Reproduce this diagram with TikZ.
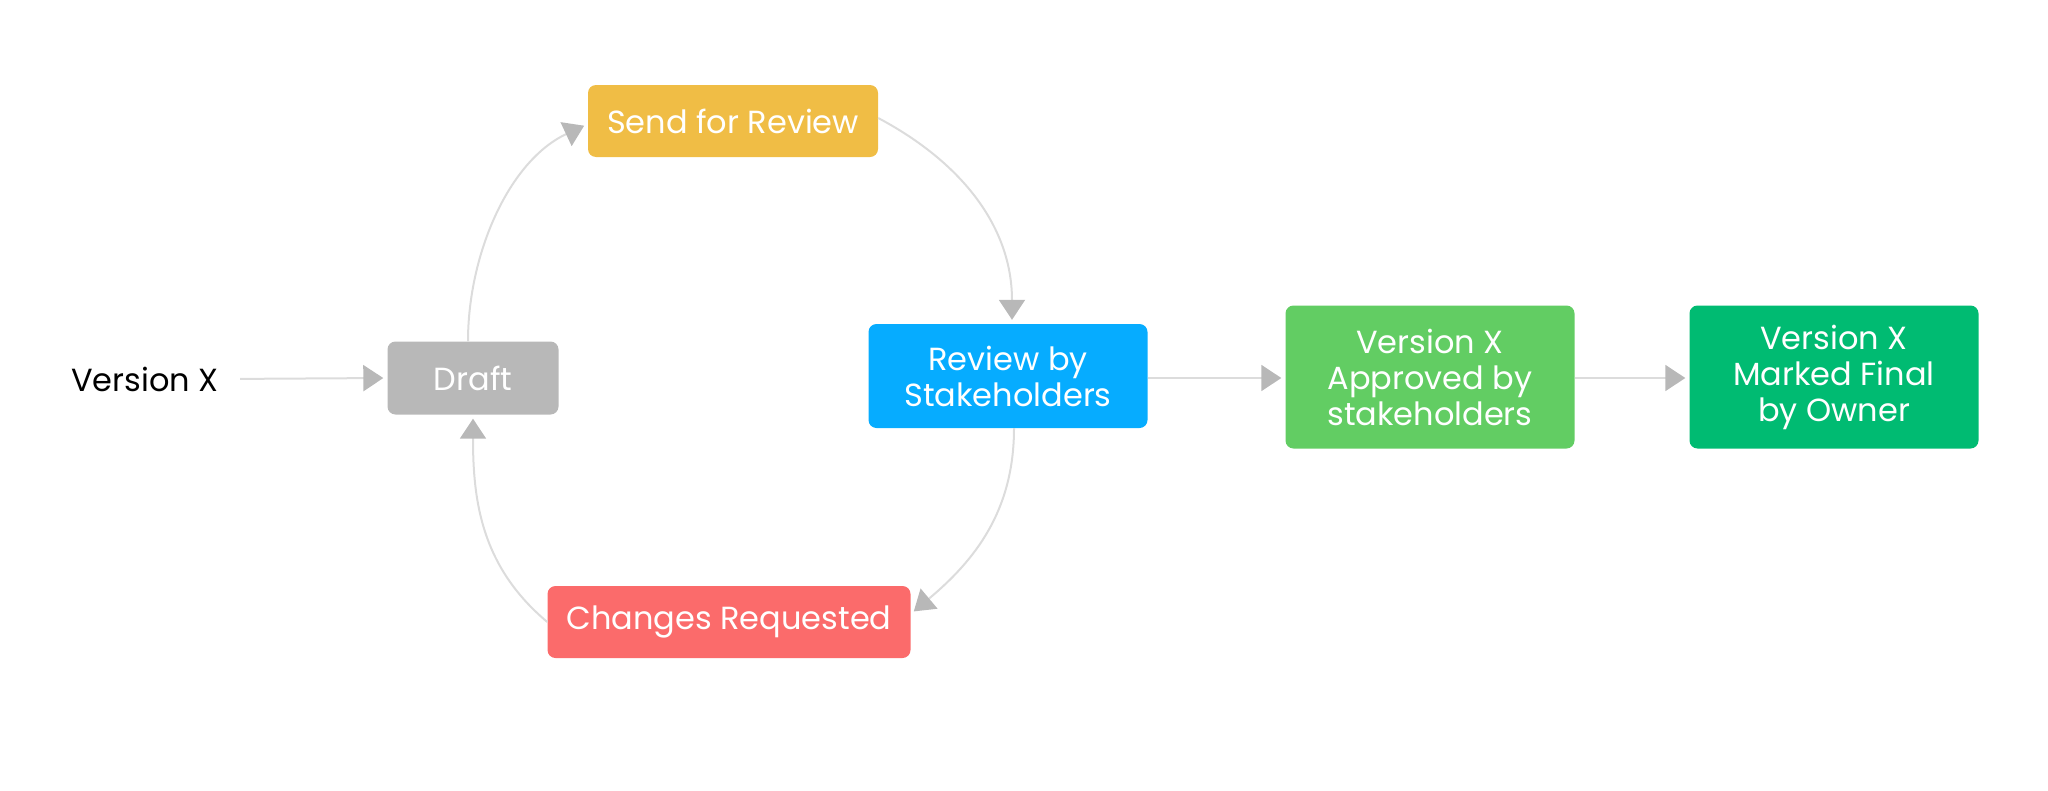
\documentclass[tikz,border=0pt]{standalone}
\usepackage{fontspec}
\setmainfont{Poppins}
\usetikzlibrary{arrows.meta}
\definecolor{draftgray}{HTML}{B8B8B8}
\definecolor{sendyellow}{HTML}{F0BD45}
\definecolor{reviewblue}{HTML}{06ACFF}
\definecolor{changered}{HTML}{FB6B6B}
\definecolor{approvegreen}{HTML}{62CD63}
\definecolor{finalgreen}{HTML}{00BB72}
\definecolor{linegray}{HTML}{DCDCDC}
\definecolor{tipgray}{HTML}{B8B8B8}
\tikzset{
  stagebox/.style={
    fill=#1, draw=none, rounded corners=8pt, text=white, align=center,
    font=\fontsize{32}{36}\selectfont, inner sep=0pt
  },
  flow/.style={
    draw=linegray, line width=2pt,
    -{Triangle[length=20pt,width=26pt,color=tipgray]}, shorten >=4pt
  }
}
\begin{document}
\begin{tikzpicture}[x=1pt, y=-1pt]
  \useasboundingbox (0,0) rectangle (2048,790);
  \node[font=\fontsize{32}{36}\selectfont] (ver) at (145,379) {Version X};
  \node[stagebox=draftgray, minimum width=171pt, minimum height=73pt] (draft) at (473,378) {Draft};
  \node[stagebox=sendyellow, minimum width=290pt, minimum height=72pt] (send) at (733,121) {Send for Review};
  \node[stagebox=reviewblue, minimum width=279pt, minimum height=104pt] (review) at (1008,376) {Review by\\Stakeholders};
  \node[stagebox=changered, minimum width=363pt, minimum height=72pt] (changes) at (729,622) {Changes Requested};
  \node[stagebox=approvegreen, minimum width=289pt, minimum height=143pt] (approved) at (1430,377) {Version X\\Approved by\\stakeholders};
  \node[stagebox=finalgreen, minimum width=289pt, minimum height=143pt] (final) at (1834,377) {Version X\\Marked Final\\by Owner};
  % the loop
  \draw[flow] ([xshift=-5pt]draft.north) to[out=90, in=205, looseness=0.9] ([yshift=-3pt]send.west);
  \draw[flow] ([yshift=3pt]send.east) to[out=-28, in=90] ([xshift=4pt]review.north);
  \draw[flow] ([xshift=6pt]review.south) to[out=-90, in=40] ([yshift=8pt]changes.east);
  \draw[flow] (changes.west) to[out=140, in=-90] (draft.south);
  % straight line
  \draw[flow, shorten <=18pt] (ver.east) -- (draft.west);
  \draw[flow] (review.east |- draft.west) -- (approved.west |- draft.west);
  \draw[flow] (approved.east |- draft.west) -- (final.west |- draft.west);
\end{tikzpicture}
\end{document}
